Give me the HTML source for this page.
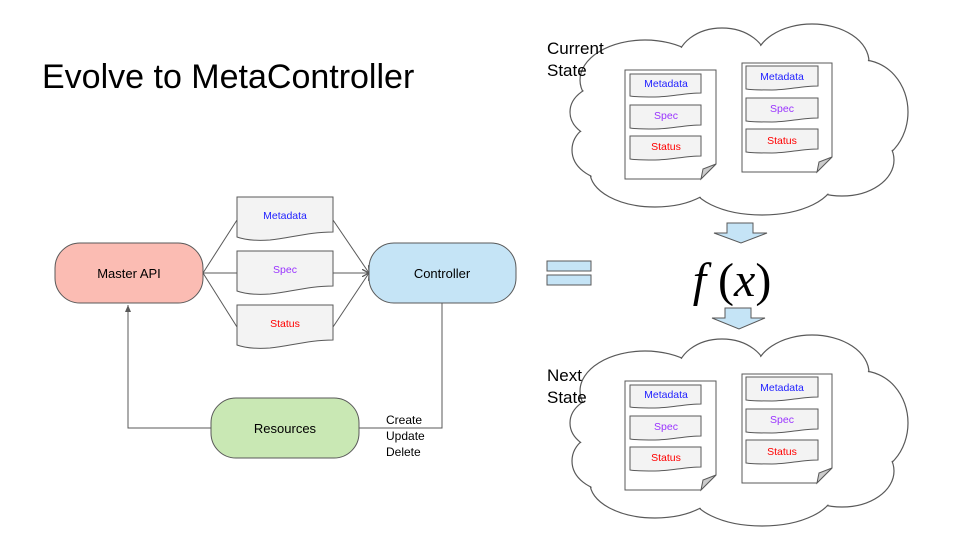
<!DOCTYPE html>
<html><head><meta charset="utf-8"><style>
body{margin:0;background:#fff}
svg{display:block}
text{font-family:"Liberation Sans",sans-serif}
text.serif{font-family:"Liberation Serif",serif}
</style></head><body>
<svg width="960" height="540" viewBox="0 0 960 540" xmlns="http://www.w3.org/2000/svg">
<defs>
<marker id="ar" markerWidth="8" markerHeight="8" refX="7" refY="4" orient="auto" markerUnits="userSpaceOnUse">
<path d="M0,0 L7,4 L0,8" fill="none" stroke="#595959" stroke-width="1"/></marker>
<marker id="at" markerWidth="8" markerHeight="8" refX="7" refY="4" orient="auto" markerUnits="userSpaceOnUse">
<path d="M0,1 L7,4 L0,7 z" fill="#595959"/></marker>
</defs>
<text x="42" y="88" font-size="34" fill="#000">Evolve to MetaController</text>

<g stroke="#595959" stroke-width="1" fill="none">
<line x1="203" y1="273" x2="237" y2="220"/>
<line x1="203" y1="273" x2="237" y2="273"/>
<line x1="203" y1="273" x2="237" y2="327"/>
<line x1="333" y1="220" x2="369" y2="273" marker-end="url(#ar)"/>
<line x1="333" y1="273" x2="369" y2="273" marker-end="url(#ar)"/>
<line x1="333" y1="327" x2="369" y2="273" marker-end="url(#ar)"/>
<polyline points="442,303 442,428 359,428"/>
<polyline points="211,428 128,428 128,305" marker-end="url(#at)"/>
</g>
<rect x="55" y="243" width="148" height="60" rx="25" fill="#fbbcb3" stroke="#595959"/>
<rect x="369" y="243" width="147" height="60" rx="25" fill="#c5e4f6" stroke="#595959"/>
<rect x="211" y="398" width="148" height="60" rx="25" fill="#c9e8b4" stroke="#595959"/>
<text x="129" y="278" font-size="13" text-anchor="middle">Master API</text>
<text x="442" y="278" font-size="13" text-anchor="middle">Controller</text>
<text x="285" y="433" font-size="13" text-anchor="middle">Resources</text>
<text x="386" y="424" font-size="12">Create</text>
<text x="386" y="440" font-size="12">Update</text>
<text x="386" y="456" font-size="12">Delete</text>
<g fill="#f3f3f3" stroke="#595959">
<path d="M237,197 H333 V232 C310,232 290,238 270,240 C255,241 245,240 237,237 Z"/>
<path d="M237,251 H333 V286 C310,286 290,292 270,294 C255,295 245,294 237,291 Z"/>
<path d="M237,305 H333 V340 C310,340 290,346 270,348 C255,349 245,348 237,345 Z"/>
</g>
<text x="285" y="219" font-size="10.5" text-anchor="middle" fill="#2222ff">Metadata</text>
<text x="285" y="273" font-size="10.5" text-anchor="middle" fill="#9933ff">Spec</text>
<text x="285" y="327" font-size="10.5" text-anchor="middle" fill="#ff0000">Status</text>

<rect x="547" y="261" width="44" height="10" fill="#c5e4f6" stroke="#595959"/>
<rect x="547" y="275" width="44" height="10" fill="#c5e4f6" stroke="#595959"/>
<path d="M727,223 H753 V233 H767 L741,243 L714,233 H727 Z" fill="#c5e4f6" stroke="#595959"/>
<path d="M725,308 H751 V318 H765 L739,329 L712,318 H725 Z" fill="#c5e4f6" stroke="#595959"/>
<text class="serif" x="732" y="296" font-size="48" text-anchor="middle" style="font-family:'Liberation Serif',serif"><tspan font-style="italic">f</tspan> (<tspan font-style="italic">x</tspan>)</text>

<g fill="#fff" stroke="#595959" stroke-width="1.2">
<ellipse cx="645" cy="80" rx="65" ry="40"/>
<ellipse cx="722" cy="62" rx="45" ry="34"/>
<ellipse cx="812" cy="62" rx="57" ry="38"/>
<ellipse cx="862" cy="112" rx="46" ry="52"/>
<ellipse cx="842" cy="160" rx="52" ry="36"/>
<ellipse cx="762" cy="180" rx="72" ry="35"/>
<ellipse cx="655" cy="172" rx="65" ry="35"/>
<ellipse cx="610" cy="150" rx="38" ry="30"/>
<ellipse cx="608" cy="112" rx="38" ry="28"/>
</g>
<g fill="#fff">
<ellipse cx="645" cy="80" rx="64" ry="39"/>
<ellipse cx="722" cy="62" rx="44" ry="33"/>
<ellipse cx="812" cy="62" rx="56" ry="37"/>
<ellipse cx="862" cy="112" rx="45" ry="51"/>
<ellipse cx="842" cy="160" rx="51" ry="35"/>
<ellipse cx="762" cy="180" rx="71" ry="34"/>
<ellipse cx="655" cy="172" rx="64" ry="34"/>
<ellipse cx="610" cy="150" rx="37" ry="29"/>
<ellipse cx="608" cy="112" rx="37" ry="27"/>
<ellipse cx="740" cy="120" rx="150" ry="62"/>
</g>
<g transform="translate(0,311)">
<g fill="#fff" stroke="#595959" stroke-width="1.2">
<ellipse cx="645" cy="80" rx="65" ry="40"/>
<ellipse cx="722" cy="62" rx="45" ry="34"/>
<ellipse cx="812" cy="62" rx="57" ry="38"/>
<ellipse cx="862" cy="112" rx="46" ry="52"/>
<ellipse cx="842" cy="160" rx="52" ry="36"/>
<ellipse cx="762" cy="180" rx="72" ry="35"/>
<ellipse cx="655" cy="172" rx="65" ry="35"/>
<ellipse cx="610" cy="150" rx="38" ry="30"/>
<ellipse cx="608" cy="112" rx="38" ry="28"/>
</g>
<g fill="#fff">
<ellipse cx="645" cy="80" rx="64" ry="39"/>
<ellipse cx="722" cy="62" rx="44" ry="33"/>
<ellipse cx="812" cy="62" rx="56" ry="37"/>
<ellipse cx="862" cy="112" rx="45" ry="51"/>
<ellipse cx="842" cy="160" rx="51" ry="35"/>
<ellipse cx="762" cy="180" rx="71" ry="34"/>
<ellipse cx="655" cy="172" rx="64" ry="34"/>
<ellipse cx="610" cy="150" rx="37" ry="29"/>
<ellipse cx="608" cy="112" rx="37" ry="27"/>
<ellipse cx="740" cy="120" rx="150" ry="62"/>
</g>
</g>

<text x="547" y="54" font-size="17">Current</text>
<text x="547" y="76" font-size="17">State</text>
<text x="547" y="381" font-size="17">Next</text>
<text x="547" y="403" font-size="17">State</text>

<g>
<g stroke="#595959" stroke-width="1">
<polygon points="625,70 716,70 716,164 701,179 625,179" fill="#fff"/>
<polygon points="716,164 701,179 703,169" fill="#ccc"/>
<polygon points="742,63 832,63 832,157 817,172 742,172" fill="#fff"/>
<polygon points="832,157 817,172 819,162" fill="#ccc"/>
</g>
<g fill="#f3f3f3" stroke="#595959">
<path d="M630,74 H701 V93 C685,93 670,97 655,97 C645,97 636,97 630,96 Z"/>
<path d="M630,105 H701 V125 C685,125 670,129 655,129 C645,129 636,129 630,128 Z"/>
<path d="M630,136 H701 V156 C685,156 670,160 655,160 C645,160 636,160 630,159 Z"/>
<path d="M746,66 H818 V86 C802,86 787,90 772,90 C762,90 752,90 746,89 Z"/>
<path d="M746,98 H818 V118 C802,118 787,122 772,122 C762,122 752,122 746,121 Z"/>
<path d="M746,129 H818 V149 C802,149 787,153 772,153 C762,153 752,153 746,152 Z"/>
</g>
<g font-size="10.5" text-anchor="middle">
<text x="666" y="87" fill="#2222ff">Metadata</text>
<text x="666" y="119" fill="#9933ff">Spec</text>
<text x="666" y="150" fill="#ff0000">Status</text>
<text x="782" y="80" fill="#2222ff">Metadata</text>
<text x="782" y="112" fill="#9933ff">Spec</text>
<text x="782" y="144" fill="#ff0000">Status</text>
</g>
</g>
<g transform="translate(0,311)">
<g stroke="#595959" stroke-width="1">
<polygon points="625,70 716,70 716,164 701,179 625,179" fill="#fff"/>
<polygon points="716,164 701,179 703,169" fill="#ccc"/>
<polygon points="742,63 832,63 832,157 817,172 742,172" fill="#fff"/>
<polygon points="832,157 817,172 819,162" fill="#ccc"/>
</g>
<g fill="#f3f3f3" stroke="#595959">
<path d="M630,74 H701 V93 C685,93 670,97 655,97 C645,97 636,97 630,96 Z"/>
<path d="M630,105 H701 V125 C685,125 670,129 655,129 C645,129 636,129 630,128 Z"/>
<path d="M630,136 H701 V156 C685,156 670,160 655,160 C645,160 636,160 630,159 Z"/>
<path d="M746,66 H818 V86 C802,86 787,90 772,90 C762,90 752,90 746,89 Z"/>
<path d="M746,98 H818 V118 C802,118 787,122 772,122 C762,122 752,122 746,121 Z"/>
<path d="M746,129 H818 V149 C802,149 787,153 772,153 C762,153 752,153 746,152 Z"/>
</g>
<g font-size="10.5" text-anchor="middle">
<text x="666" y="87" fill="#2222ff">Metadata</text>
<text x="666" y="119" fill="#9933ff">Spec</text>
<text x="666" y="150" fill="#ff0000">Status</text>
<text x="782" y="80" fill="#2222ff">Metadata</text>
<text x="782" y="112" fill="#9933ff">Spec</text>
<text x="782" y="144" fill="#ff0000">Status</text>
</g>
</g>
</svg>
</body></html>
